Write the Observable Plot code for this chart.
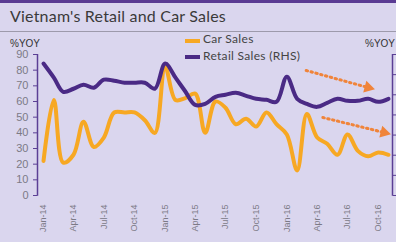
<!DOCTYPE html>
<html><head><meta charset="utf-8">
<script src="https://cdn.jsdelivr.net/npm/d3@7"></script>
<script src="https://cdn.jsdelivr.net/npm/@observablehq/plot@0.6"></script>
<style>
html,body{margin:0;padding:0;background:#dad6ee;overflow:hidden;}
#wrap{position:relative;width:396px;height:242px;background:#dad6ee;overflow:hidden;}
#topbar{position:absolute;left:0;top:0;width:396px;height:3px;background:#5a3b93;}
#title{position:absolute;left:10px;top:6px;font:16px Lato,sans-serif;color:#3a3a3a;white-space:nowrap;letter-spacing:0.2px;}
#sep{position:absolute;left:0;top:31px;width:396px;height:1px;background:#9d9aab;}
#chart{position:absolute;left:0;top:32px;}
.lab{position:absolute;font:10px "Liberation Sans",Arial,sans-serif;color:#333;white-space:nowrap;}
.sw{position:absolute;width:15px;height:4px;}
.lt{position:absolute;font:12px Lato,sans-serif;color:#444;white-space:nowrap;letter-spacing:0.3px;}
</style></head>
<body>
<div id="wrap">
  <div id="topbar"></div>
  <div id="title">Vietnam's Retail and Car Sales</div>
  <div id="sep"></div>
  <div id="chart"></div>
  <div class="lab" style="left:10px;top:38px;">%YOY</div>
  <div class="lab" style="left:365px;top:38px;">%YOY</div>
  <div class="sw" style="left:185px;top:39px;background:#f7a823;"></div>
  <div class="lt" style="left:203px;top:31px;">Car Sales</div>
  <div class="sw" style="left:185px;top:55px;background:#4a2a85;"></div>
  <div class="lt" style="left:203px;top:48px;">Retail Sales (RHS)</div>
</div>
<script>
const months = ["Jan-14","Feb-14","Mar-14","Apr-14","May-14","Jun-14","Jul-14","Aug-14","Sep-14","Oct-14","Nov-14","Dec-14",
"Jan-15","Feb-15","Mar-15","Apr-15","May-15","Jun-15","Jul-15","Aug-15","Sep-15","Oct-15","Nov-15","Dec-15",
"Jan-16","Feb-16","Mar-16","Apr-16","May-16","Jun-16","Jul-16","Aug-16","Sep-16","Oct-16","Nov-16"];
const carSales = [22,61,21,26,47,31,37,53,53,53,48,40,82,61,62,65,40,60,56,45.5,49,44,53,45.5,39,16,52,37,33,26,39,28.5,25,27.5,26];
const retailSales = [13.1,11.7,10.3,10.6,11.0,10.7,11.5,11.4,11.2,11.2,11.2,10.6,13.1,11.7,10.4,9.0,9.1,9.8,10.0,10.2,9.9,9.6,9.5,9.3,11.8,9.6,9.1,8.8,9.2,9.6,9.4,9.4,9.6,9.3,9.6];
const tickLabels = ["Jan-14","Apr-14","Jul-14","Oct-14","Jan-15","Apr-15","Jul-15","Oct-15","Jan-16","Apr-16","Jul-16","Oct-16"];
const leftTicks = [0,10,20,30,40,50,60,70,80,90];
const rightTicks = [0,2,4,6,8,10,12,14];
// trend arrows (date, value on left scale)
const arrowStart = [["2016-02-28",79.8],["2016-04-18",49.8]];
const arrowEnd = [["2016-09-01",68.9],["2016-10-19",40.2]];

const parse = d3.utcParse("%b-%y");
const fmt = d3.utcFormat("%b-%y");
const lhsMax = 90, rhsMax = 14;
const k = lhsMax / rhsMax;
const data = months.map((m, i) => ({date: parse(m), car: carSales[i], retail: retailSales[i] * k}));
const arrows = arrowStart.map((s, i) => ({x1: new Date(s[0]), y1: s[1], x2: new Date(arrowEnd[i][0]), y2: arrowEnd[i][1], rot: i === 0 ? 105 : 104}));
const xDomain = [new Date(Date.UTC(2013, 11, 14)), new Date(Date.UTC(2016, 10, 13))];
const axisColor = "#5b3f95";
const txt = "#7c7a86";

const chart = Plot.plot({
  width: 396, height: 210,
  marginLeft: 37, marginRight: 4, marginTop: 22, marginBottom: 47,
  style: {background: "transparent", fontFamily: "'Liberation Sans', Arial, sans-serif"},
  x: {type: "utc", domain: xDomain},
  y: {domain: [0, lhsMax]},
  marks: [
    Plot.ruleX([xDomain[0]], {y1: -0.5, y2: lhsMax, stroke: axisColor, strokeWidth: 1.5}),
    Plot.ruleX([xDomain[1]], {y1: -0.5, y2: lhsMax, stroke: axisColor, strokeWidth: 1.5}),
    Plot.axisY(leftTicks, {anchor: "left", tickSize: 4, tickPadding: 5, stroke: axisColor, fill: txt, fontSize: 11, label: null}),
    Plot.axisY(rightTicks.map(v => v * k), {anchor: "right", tickSize: 4, tickPadding: 4, stroke: axisColor, fill: txt, fontSize: 11, tickFormat: () => "", label: null}),
    Plot.axisX(tickLabels.map(parse), {anchor: "bottom", tickSize: 0, tickPadding: 9, tickRotate: -90, tickFormat: fmt, fill: txt, fontSize: 9, label: null}),
    Plot.line(data, {x: "date", y: "car", stroke: "#f7a823", strokeWidth: 4, curve: "catmull-rom"}),
    Plot.line(data, {x: "date", y: "retail", stroke: "#4a2a85", strokeWidth: 4, curve: "catmull-rom"}),
    Plot.link(arrows, {x1: "x1", y1: "y1", x2: "x2", y2: "y2", stroke: "#f0843a", strokeWidth: 3, strokeDasharray: "1.5,3.5", strokeLinecap: "round"}),
    Plot.dot(arrows, {x: "x2", y: "y2", symbol: "triangle", r: 4.5, fill: "#f0843a", stroke: "none", rotate: "rot"})
  ]
});
document.getElementById("chart").appendChild(chart);
</script>
</body></html>
